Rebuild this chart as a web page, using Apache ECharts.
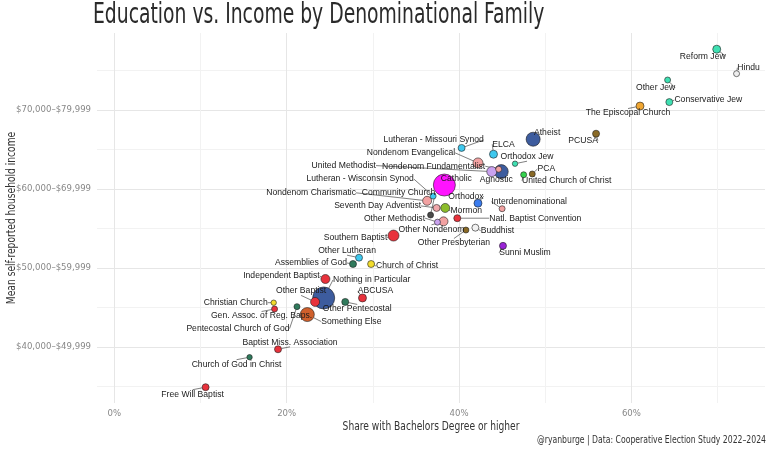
<!DOCTYPE html>
<html>
<head>
<meta charset="utf-8">
<title>Education vs. Income by Denominational Family</title>
<script src="https://cdn.jsdelivr.net/npm/echarts@6/dist/echarts.min.js"></script>
<style>
  html, body { margin: 0; padding: 0; background: #fff; }
  #chart { width: 771px; height: 450px; }
</style>
</head>
<body>
<div id="chart"></div>
<script>
// ---- data ----
var denominations = [
    'Reform Jew', 'Hindu', 'Other Jew', 'Conservative Jew', 'The Episcopal Church', 'PCUSA',
    'Atheist', 'Lutheran - Missouri Synod', 'ELCA', 'Orthodox Jew', 'Nondenom Evangelical', 'Agnostic',
    'United Methodist', 'Nondenom Fundamentalist', 'PCA', 'United Church of Christ', 'Catholic',
    'Lutheran - Wisconsin Synod', 'Nondenom Charismatic', 'Orthodox', 'Seventh Day Adventist', 'Mormon',
    'Interdenominational', 'Community Church', 'Natl. Baptist Convention', 'Other Nondenom', 'Other Methodist',
    'Buddhist', 'Other Presbyterian', 'Southern Baptist', 'Sunni Muslim', 'Other Lutheran', 'Assemblies of God',
    'Church of Christ', 'Independent Baptist', 'Nothing in Particular', 'Other Baptist', 'ABCUSA',
    'Other Pentecostal', 'Christian Church', 'Gen. Assoc. of Reg. Baps.', 'Pentecostal Church of God',
    'Something Else', 'Baptist Miss. Association', 'Church of God in Christ', 'Free Will Baptist'
];
// share with a bachelors degree, in percent
var bachelorsShare = [
    69.9, 72.2, 64.2, 64.4, 61.0, 55.9,
    48.6, 40.3, 44.0, 46.5, 42.2, 44.9,
    43.8, 44.6, 48.5, 47.5, 38.3,
    37.0, 36.3, 42.2, 37.4, 38.4,
    45.0, 36.7, 39.8, 38.2, 37.5,
    41.9, 40.8, 32.4, 45.1, 28.4, 27.7,
    29.8, 24.5, 24.3, 23.3, 28.8,
    26.8, 18.5, 18.6, 21.2,
    22.4, 19.0, 15.7, 10.6
];
// mean income bracket (4 = $40,000-$49,999 ... 7 = $70,000-$79,999)
var incomeScore = [
    7.77, 7.46, 7.38, 7.10, 7.05, 6.70,
    6.63, 6.52, 6.44, 6.32, 6.33, 6.22,
    6.22, 6.25, 6.19, 6.18, 6.05,
    5.91, 5.85, 5.82, 5.76, 5.76,
    5.75, 5.67, 5.63, 5.59, 5.58,
    5.51, 5.48, 5.41, 5.28, 5.13, 5.05,
    5.05, 4.86, 4.62, 4.57, 4.62,
    4.57, 4.56, 4.48, 4.51,
    4.41, 3.97, 3.87, 3.49
];
// respondents (estimated from point area)
var sampleSize = [
    1600, 900, 900, 1225, 1600, 1225,
    4900, 1225, 1600, 730, 2500, 4900,
    2500, 900, 900, 900, 12100,
    900, 2025, 1600, 1225, 2025,
    900, 900, 1225, 2025, 900,
    1225, 900, 3025, 1225, 1225, 1225,
    1225, 2025, 12100, 2025, 1600,
    1225, 730, 900, 900,
    4900, 1225, 730, 1225
];
var family = [
    'Jewish', 'Hindu', 'Jewish', 'Jewish', 'Episcopal', 'Presbyterian',
    'Nones', 'Lutheran', 'Lutheran', 'Jewish', 'Nondenom', 'Nones',
    'Methodist', 'Nondenom', 'Presbyterian', 'UCC', 'Catholic',
    'Lutheran', 'Nondenom', 'Orthodox', 'Adventist', 'Mormon',
    'Nondenom', 'Other', 'Baptist', 'Nondenom', 'Methodist',
    'Buddhist', 'Presbyterian', 'Baptist', 'Muslim', 'Lutheran', 'Pentecostal',
    'Restorationist', 'Baptist', 'Nones', 'Baptist', 'Baptist',
    'Pentecostal', 'Restorationist', 'Baptist', 'Pentecostal',
    'Something Else', 'Baptist', 'Pentecostal', 'Baptist'
];
var incomeTicks = [4, 5, 6, 7];
var incomeTickLabels = ['$40,000\u2013$49,999', '$50,000\u2013$59,999', '$60,000\u2013$69,999', '$70,000\u2013$79,999'];
var shareTicks = [0, 20, 40, 60];

// ---- styling / layout ----
var familyColors = {
    Jewish: '#3fe0b2', Hindu: '#eeeeee', Episcopal: '#f0a632', Presbyterian: '#8a6a26',
    Nones: '#3d5c9e', Lutheran: '#3ec8ee', Nondenom: '#f2a2a2', Methodist: '#c9a2ef',
    UCC: '#35d24e', Catholic: '#ff14ff', Orthodox: '#3a7cee', Adventist: '#f0a6aa',
    Mormon: '#8cbc2c', Other: '#4a4a4a', Baptist: '#e8323c', Buddhist: '#f2f2f2',
    Muslim: '#9a24d6', Pentecostal: '#2f7a5c', Restorationist: '#f2dc2c', 'Something Else': '#d0602c'
};
// where each ggrepel-style label sits, relative to its point (px)
var labelNudge = [
    [-14, 7], [12, -6], [-12, 8], [39, -2], [-12, 7], [-13, 7],
    [14, -7], [-28, -8], [10, -10], [12, -7], [-67, -10], [-5, 8],
    [-148, -6], [-65, -3], [14, -5], [43, 6], [12, -6],
    [-73, -17], [-116, -8], [-12, -7], [-59, -2], [21, 3],
    [27, -7], [-32, -22], [78, 0], [-12, 8], [-43, -4],
    [22, 3], [-12, 13], [-38, 2], [22, 7], [-12, -7], [-42, -1],
    [36, 2], [-44, -3], [48, -18], [-14, -11], [13, -7],
    [12, 7], [-38, 0], [-13, 7], [-59, 22],
    [44, 7], [12, -7], [-13, 7], [-13, 7]
];

var condensed = "'DejaVu Sans Condensed', 'DejaVu Sans', sans-serif";
var labelFont = "'Liberation Sans', Arial, sans-serif";

var points = denominations.map(function (name, i) {
    return {
        name: name,
        src: i,
        value: [bachelorsShare[i], incomeScore[i]],
        symbolSize: Math.sqrt(sampleSize[i]) / 5,
        itemStyle: { color: familyColors[family[i]] }
    };
});
// bigger points underneath
points.sort(function (a, b) { return b.symbolSize - a.symbolSize; });
var order = points.map(function (p) { return p.src; });

// the original uses a narrow face, so squeeze a condensed one
function narrowText(text, x, y, size, color, align, squeeze, rotation) {
    return {
        type: 'text',
        x: x,
        y: y,
        rotation: rotation || 0,
        scaleX: squeeze,
        silent: true,
        style: {
            text: text,
            font: size + 'px ' + condensed,
            fill: color,
            align: align,
            verticalAlign: 'middle'
        }
    };
}

var myChart = echarts.init(document.getElementById('chart'), null, { renderer: 'canvas' });
var option = {
    backgroundColor: '#ffffff',
    animation: false,
    graphic: [
        narrowText('Education vs. Income by Denominational Family', 93, 16, 28, '#2a2a2a', 'left', 0.745),
        narrowText('Share with Bachelors Degree or higher', 431, 427, 13, '#333', 'center', 0.78),
        narrowText('Mean self-reported household income', 12, 218, 13, '#333', 'center', 0.78, Math.PI / 2),
        narrowText('@ryanburge | Data: Cooperative Election Study 2022\u20132024', 766, 440, 11, '#333', 'right', 0.78)
    ],
    grid: { left: 97, right: 6, top: 33, bottom: 47, containLabel: false, outerBoundsMode: 'none' },
    xAxis: {
        type: 'value',
        min: -2,
        max: 75.5,
        axisLine: { show: false },
        axisTick: { show: false, customValues: [0, 10, 20, 30, 40, 50, 60, 70] },
        axisLabel: {
            customValues: shareTicks,
            formatter: function (v) { return v + '%'; },
            fontFamily: condensed, fontSize: 9.5, color: '#888', margin: 6
        },
        splitLine: { show: true, lineStyle: { color: ['#e6e6e6', '#f2f2f2'], width: 1 } }
    },
    yAxis: {
        type: 'value',
        min: 3.29,
        max: 7.975,
        axisLine: { show: false },
        axisTick: { show: false, customValues: [3.5, 4, 4.5, 5, 5.5, 6, 6.5, 7, 7.5] },
        axisLabel: {
            customValues: incomeTicks,
            formatter: function (v) { return incomeTickLabels[incomeTicks.indexOf(v)] || ''; },
            fontFamily: condensed, fontSize: 9.5, color: '#888', margin: 6
        },
        splitLine: { show: true, lineStyle: { color: ['#f2f2f2', '#e6e6e6'], width: 1 } }
    },
    series: [{
        type: 'scatter',
        data: points,
        itemStyle: { borderColor: '#1f1f1f', borderWidth: 0.6, opacity: 1 },
        emphasis: { disabled: true },
        label: {
            show: true,
            position: 'inside',
            formatter: '{b}',
            align: 'center',
            verticalAlign: 'middle',
            fontFamily: labelFont,
            fontSize: 8.6,
            color: '#1a1a1a'
        },
        labelLine: { show: true, lineStyle: { color: '#2a2a2a', width: 0.6 } },
        labelLayout: function (params) {
            var n = labelNudge[order[params.dataIndex]];
            return { dx: n[0], dy: n[1], hideOverlap: false };
        }
    }]
};
myChart.setOption(option);
</script>
</body>
</html>
